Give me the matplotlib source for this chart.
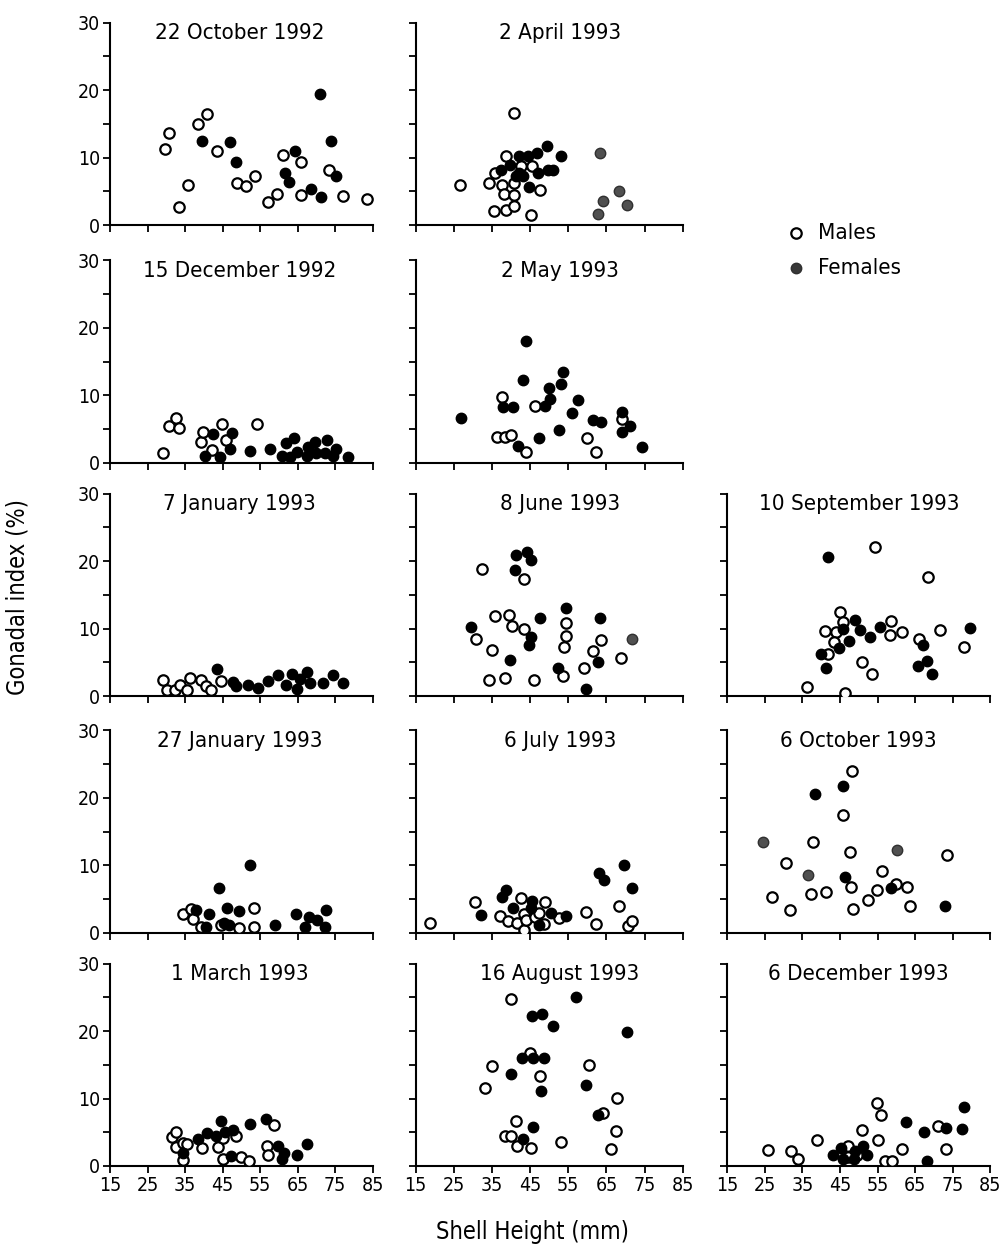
import numpy as np
import matplotlib
matplotlib.use('Agg')
import matplotlib.pyplot as plt

plt.rcParams['font.family'] = ['DejaVu Sans']
plt.rcParams['font.stretch'] = 'condensed'

# shell height (mm) and gonadal index (%) per sampling date; m = males, f = females, g = females printed grey
oct92_m_x = [29.7, 30.7, 33.5, 35.7, 38.4, 40.8, 43.6, 48.9, 51.2, 53.6, 57.1, 59.6, 61.0, 65.8, 66.0, 73.3, 77.0, 83.6]
oct92_m_y = [11.2, 13.7, 2.6, 6.0, 14.9, 16.5, 10.9, 6.2, 5.8, 7.2, 3.4, 4.6, 10.4, 9.4, 4.4, 8.1, 4.3, 3.9]
oct92_f_x = [39.4, 47.1, 48.6, 61.5, 62.8, 64.3, 68.5, 71.0, 71.2, 73.8, 75.3]
oct92_f_y = [12.5, 12.3, 9.4, 7.7, 6.4, 10.9, 5.3, 19.4, 4.1, 12.4, 7.3]

apr93_m_x = [26.7, 34.1, 35.4, 35.7, 37.6, 38.2, 38.7, 38.7, 40.7, 40.9, 40.9, 40.9, 42.7, 45.1, 45.4, 47.5]
apr93_m_y = [5.9, 6.2, 2.1, 7.7, 5.9, 4.6, 10.3, 2.2, 2.8, 16.6, 6.3, 4.5, 8.8, 1.5, 8.8, 5.2]
apr93_f_x = [37.4, 39.6, 42.0, 42.2, 43.2, 44.4, 44.8, 46.8, 47.0, 49.4, 49.6, 51.1, 53.0, 41.3]
apr93_f_y = [8.1, 8.9, 10.3, 7.7, 7.2, 10.2, 5.7, 10.6, 7.7, 11.7, 8.2, 8.2, 10.3, 7.2]
apr93_g_x = [63.2, 62.8, 64.0, 68.2, 70.5]
apr93_g_y = [10.7, 1.6, 3.5, 5.0, 3.0]

dec92_m_x = [29.2, 30.7, 32.6, 33.5, 39.2, 39.8, 42.2, 44.8, 46.0, 54.2]
dec92_m_y = [1.5, 5.4, 6.7, 5.1, 3.1, 4.5, 1.9, 5.8, 3.3, 5.7]
dec92_f_x = [40.2, 42.4, 44.4, 47.1, 47.6, 52.2, 57.6, 60.7, 62.0, 64.0, 64.9, 67.8, 69.6, 70.0, 72.7, 72.3, 75.2, 74.5, 78.5, 67.4, 62.9]
dec92_f_y = [1.0, 4.3, 0.9, 2.1, 4.4, 1.8, 2.0, 1.0, 2.9, 3.6, 1.6, 2.3, 3.1, 1.4, 3.3, 1.4, 2.0, 1.0, 0.8, 1.0, 0.9]

may93_m_x = [36.2, 37.7, 38.4, 39.9, 44.0, 46.2, 59.8, 62.2, 69.2]
may93_m_y = [3.8, 9.8, 3.8, 4.1, 1.6, 8.4, 3.7, 1.6, 6.5]
may93_f_x = [27.0, 37.9, 40.5, 41.9, 43.2, 43.9, 47.4, 48.9, 50.0, 50.3, 52.6, 53.1, 53.5, 56.1, 57.6, 61.5, 63.6, 69.1, 69.1, 71.3, 74.4]
may93_f_y = [6.6, 8.3, 8.3, 2.5, 12.3, 18.0, 3.7, 8.4, 11.1, 9.4, 4.8, 11.7, 13.4, 7.4, 9.3, 6.3, 6.1, 7.5, 4.6, 5.4, 2.3]

jan7_m_x = [29.1, 30.1, 32.2, 33.7, 35.6, 36.2, 39.3, 40.6, 41.9, 44.5]
jan7_m_y = [2.4, 0.9, 0.9, 1.7, 0.9, 2.7, 2.4, 1.5, 0.9, 2.2]
jan7_f_x = [43.5, 47.8, 48.7, 51.8, 54.4, 57.1, 59.8, 62.0, 63.4, 64.9, 65.6, 67.5, 68.2, 71.8, 74.3, 77.2]
jan7_f_y = [4.0, 2.1, 1.5, 1.7, 1.2, 2.2, 3.1, 1.7, 3.2, 1.0, 2.5, 3.5, 2.0, 2.0, 3.1, 2.0]

jun93_m_x = [30.7, 32.5, 34.1, 34.9, 35.9, 38.4, 39.5, 40.2, 43.3, 43.3, 46.1, 54.3, 54.3, 54.0, 53.5, 59.1, 61.4, 63.7, 68.8]
jun93_m_y = [8.5, 18.9, 2.4, 6.8, 11.9, 2.7, 12.0, 10.4, 17.4, 10.0, 2.4, 10.8, 8.9, 7.3, 2.9, 4.2, 6.7, 8.3, 5.7]
jun93_f_x = [29.4, 39.7, 41.0, 41.2, 44.2, 45.2, 45.1, 44.7, 47.5, 54.5, 52.4, 59.6, 62.9, 63.3]
jun93_f_y = [10.3, 5.3, 18.7, 20.9, 21.4, 20.2, 8.8, 7.6, 11.6, 13.0, 4.1, 1.0, 5.1, 11.6]
jun93_g_x = [71.6]
jun93_g_y = [8.4]

sep93_m_x = [36.1, 41.1, 41.8, 43.8, 43.5, 44.9, 45.9, 46.2, 50.9, 53.6, 54.4, 58.7, 58.4, 61.4, 66.0, 68.3, 71.5, 77.9]
sep93_m_y = [1.4, 9.6, 6.2, 9.5, 8.0, 12.5, 11.0, 0.4, 5.0, 3.2, 22.1, 11.1, 9.0, 9.5, 8.4, 17.7, 9.8, 7.3]
sep93_f_x = [41.8, 40.0, 41.3, 44.7, 45.9, 47.4, 48.9, 50.2, 53.1, 55.6, 65.8, 67.2, 68.1, 69.6, 79.7]
sep93_f_y = [20.6, 6.3, 4.2, 7.1, 9.9, 8.2, 11.3, 9.8, 8.7, 10.3, 4.5, 7.6, 5.2, 3.3, 10.1]

jan27_m_x = [34.4, 36.6, 37.2, 39.2, 44.6, 49.5, 53.3, 53.3]
jan27_m_y = [2.7, 3.5, 2.0, 0.9, 1.1, 0.7, 3.7, 0.8]
jan27_f_x = [37.9, 40.6, 41.3, 44.0, 45.5, 46.1, 46.8, 49.3, 52.3, 59.0, 64.6, 67.0, 67.9, 70.1, 72.4, 72.5]
jan27_f_y = [3.3, 0.9, 2.7, 6.6, 1.4, 3.7, 1.1, 3.2, 10.1, 1.2, 2.8, 0.9, 2.4, 1.9, 0.9, 3.3]

jul93_m_x = [18.8, 30.5, 37.2, 39.2, 41.6, 42.7, 43.3, 43.3, 43.9, 46.2, 47.4, 48.6, 49.0, 52.6, 59.6, 62.4, 68.2, 70.7, 71.6]
jul93_m_y = [1.4, 4.5, 2.5, 1.7, 1.4, 5.1, 2.8, 0.4, 1.9, 2.3, 2.9, 1.3, 4.6, 2.2, 3.0, 1.3, 3.9, 1.0, 1.7]
jul93_f_x = [32.0, 37.5, 38.6, 40.5, 45.4, 45.1, 47.4, 50.6, 54.3, 63.0, 64.3, 69.7, 71.6]
jul93_f_y = [2.6, 5.3, 6.3, 3.7, 4.7, 3.6, 1.1, 2.9, 2.5, 8.9, 7.8, 10.0, 6.6]

oct93_m_x = [26.8, 30.6, 31.7, 37.2, 37.7, 41.2, 45.7, 47.7, 47.9, 48.1, 48.4, 52.4, 54.8, 56.1, 59.9, 62.8, 63.7, 73.4]
oct93_m_y = [5.3, 10.3, 3.4, 5.7, 13.4, 6.1, 17.4, 11.9, 6.7, 23.9, 3.5, 4.8, 6.4, 9.2, 7.2, 6.8, 3.9, 11.5]
oct93_f_x = [38.4, 45.7, 46.3, 58.5, 73.0]
oct93_f_y = [20.5, 21.8, 8.2, 6.6, 3.9]
oct93_g_x = [24.4, 36.6, 60.1]
oct93_g_y = [13.5, 8.6, 12.3]

mar93_m_x = [31.4, 32.7, 32.7, 34.5, 34.5, 35.6, 39.4, 43.8, 45.0, 45.0, 48.5, 50.0, 52.0, 56.8, 57.1, 58.8]
mar93_m_y = [4.3, 5.1, 2.8, 3.4, 0.9, 3.3, 2.6, 2.8, 4.1, 1.1, 4.4, 1.3, 0.8, 2.9, 1.6, 6.1]
mar93_f_x = [34.5, 38.5, 40.9, 43.2, 44.5, 45.6, 47.2, 47.8, 52.2, 56.6, 59.7, 60.9, 61.3, 64.8, 67.4]
mar93_f_y = [1.9, 4.0, 4.9, 4.4, 6.6, 5.1, 1.5, 5.3, 6.2, 7.0, 2.9, 1.1, 2.0, 1.7, 3.2]

aug93_m_x = [33.1, 35.1, 38.4, 40.1, 39.9, 41.2, 41.6, 44.9, 45.1, 47.7, 53.0, 60.5, 64.2, 66.1, 67.4, 67.7]
aug93_m_y = [11.6, 14.8, 4.4, 24.7, 4.4, 6.7, 2.9, 16.8, 2.6, 13.4, 3.5, 14.9, 7.8, 2.5, 5.2, 10.1]
aug93_f_x = [39.9, 42.8, 43.0, 45.6, 45.8, 45.8, 48.0, 48.6, 47.8, 51.0, 57.0, 59.6, 62.7, 70.3]
aug93_f_y = [13.6, 16.0, 4.0, 22.3, 16.0, 5.8, 22.5, 16.0, 11.1, 20.7, 25.0, 12.0, 7.5, 19.8]

dec93_m_x = [25.7, 31.9, 33.7, 38.8, 47.0, 47.0, 49.6, 50.8, 54.8, 55.9, 55.0, 56.9, 58.9, 61.6, 71.0, 73.2]
dec93_m_y = [2.3, 2.2, 1.0, 3.9, 2.9, 1.3, 1.6, 5.3, 9.3, 7.6, 3.8, 0.8, 0.7, 2.5, 5.9, 2.5]
dec93_f_x = [43.2, 45.2, 45.9, 48.6, 48.9, 51.1, 52.3, 62.5, 67.4, 68.1, 73.2, 77.4, 77.9]
dec93_f_y = [1.6, 2.6, 1.0, 1.0, 2.2, 3.0, 1.7, 6.5, 5.1, 0.8, 5.6, 5.5, 8.8]

# (row, col, title, males, females, grey females)
panels = [
    (0, 0, '22 October 1992', (oct92_m_x, oct92_m_y), (oct92_f_x, oct92_f_y), None),
    (0, 1, '2 April 1993', (apr93_m_x, apr93_m_y), (apr93_f_x, apr93_f_y), (apr93_g_x, apr93_g_y)),
    (1, 0, '15 December 1992', (dec92_m_x, dec92_m_y), (dec92_f_x, dec92_f_y), None),
    (1, 1, '2 May 1993', (may93_m_x, may93_m_y), (may93_f_x, may93_f_y), None),
    (2, 0, '7 January 1993', (jan7_m_x, jan7_m_y), (jan7_f_x, jan7_f_y), None),
    (2, 1, '8 June 1993', (jun93_m_x, jun93_m_y), (jun93_f_x, jun93_f_y), (jun93_g_x, jun93_g_y)),
    (2, 2, '10 September 1993', (sep93_m_x, sep93_m_y), (sep93_f_x, sep93_f_y), None),
    (3, 0, '27 January 1993', (jan27_m_x, jan27_m_y), (jan27_f_x, jan27_f_y), None),
    (3, 1, '6 July 1993', (jul93_m_x, jul93_m_y), (jul93_f_x, jul93_f_y), None),
    (3, 2, '6 October 1993', (oct93_m_x, oct93_m_y), (oct93_f_x, oct93_f_y), (oct93_g_x, oct93_g_y)),
    (4, 0, '1 March 1993', (mar93_m_x, mar93_m_y), (mar93_f_x, mar93_f_y), None),
    (4, 1, '16 August 1993', (aug93_m_x, aug93_m_y), (aug93_f_x, aug93_f_y), None),
    (4, 2, '6 December 1993', (dec93_m_x, dec93_m_y), (dec93_f_x, dec93_f_y), None),
]

fig = plt.figure(figsize=(10, 12.57), dpi=100)

col_left = [0.110, 0.4157, 0.7273]
col_w = [0.2627, 0.267, 0.263]
row_bottom = [0.8210, 0.6319, 0.4463, 0.2580, 0.0724]
row_h = 0.1610
title_x = [0.493, 0.54, 0.50]

ms = 7.5
for r, c, title, males, females, grey in panels:
    ax = fig.add_axes([col_left[c], row_bottom[r], col_w[c], row_h])
    ax.plot(males[0], males[1], 'o', ms=ms, mfc='white', mec='black', mew=1.6, ls='none', zorder=3)
    ax.plot(females[0], females[1], 'o', ms=ms, mfc='black', mec='black', mew=1.0, ls='none', zorder=4)
    if grey is not None:
        ax.plot(grey[0], grey[1], 'o', ms=ms, mfc='#505050', mec='#303030', mew=1.0, ls='none', zorder=4)
    ax.set_xlim(15, 85)
    ax.set_ylim(0, 30)
    ax.set_xticks(np.arange(15, 86, 10))
    ax.set_yticks(np.arange(0, 31, 5))
    for s in ['top', 'right']:
        ax.spines[s].set_visible(False)
    for s in ['left', 'bottom']:
        ax.spines[s].set_linewidth(1.5)
    ax.tick_params(direction='out', length=5, width=1.3, labelsize=14, pad=2)
    ax.set_yticklabels(['0', '', '10', '', '20', '', '30'] if c == 0 else [])
    if r != 4:
        ax.set_xticklabels([])
    ax.patch.set_visible(False)
    ax.text(title_x[c], 0.917, title, transform=ax.transAxes, ha='center', va='baseline', fontsize=16)

# legend in the empty upper right
fig.lines.append(plt.Line2D([0.796], [1 - 233 / 1257], marker='o', ms=ms, mfc='white', mec='black', mew=1.6,
                            transform=fig.transFigure, ls='none'))
fig.lines.append(plt.Line2D([0.796], [1 - 268 / 1257], marker='o', ms=ms, mfc='#383838', mec='#303030', mew=1.0,
                            transform=fig.transFigure, ls='none'))
fig.text(0.818, 1 - 233 / 1257, 'Males', fontsize=16, va='center', ha='left')
fig.text(0.818, 1 - 268 / 1257, 'Females', fontsize=16, va='center', ha='left')

fig.text(0.018, 0.525, 'Gonadal index (%)', rotation=90, fontsize=17, ha='center', va='center')
fig.text(0.532, 0.02, 'Shell Height (mm)', fontsize=17, ha='center', va='center')

fig.savefig('out.png', dpi=100)
